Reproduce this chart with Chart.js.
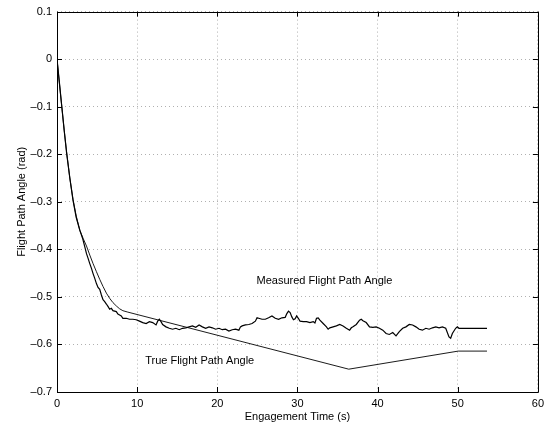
<!DOCTYPE html>
<html>
<head>
<meta charset="utf-8">
<script src="https://cdn.jsdelivr.net/npm/chart.js@4/dist/chart.umd.min.js"></script>
<style>
html,body{margin:0;padding:0;background:#fff;}
#wrap{width:549px;height:425px;}
</style>
</head>
<body>
<div id="wrap"><canvas id="c" width="549" height="425"></canvas></div>
<script>
// ---- data ----
const xTicks = [0, 10, 20, 30, 40, 50, 60];
const yTicks = [0.1, 0, -0.1, -0.2, -0.3, -0.4, -0.5, -0.6, -0.7];

const trueTime = [0,0.3,0.6,0.9,1.2,1.6,2.0,2.4,2.85,3.26,3.68,4.09,4.5,4.92,5.33,5.74,6.16,6.57,6.98,7.4,7.81,8.22,8.84,36.4,50.06,53.65];
const trueAngle = [0,-0.05,-0.1,-0.15,-0.195,-0.25,-0.295,-0.33,-0.36,-0.377,-0.393,-0.412,-0.43,-0.447,-0.463,-0.478,-0.492,-0.503,-0.512,-0.519,-0.525,-0.529,-0.532,-0.652,-0.614,-0.614];

const measTime = [0,0.3,0.6,0.9,1.2,1.6,2.0,2.4,2.85,3.18,3.47,3.68,3.88,4.09,4.30,4.50,4.71,4.92,5.12,5.33,5.54,5.74,5.95,6.16,6.36,6.57,6.78,6.98,7.40,7.60,7.81,8.02,8.22,8.64,9.05,9.46,9.88,10.29,10.70,11.12,11.53,11.94,12.36,12.56,12.77,12.98,13.18,13.60,14.01,14.42,14.83,15.25,15.66,16.07,16.49,16.90,17.31,17.73,18.14,18.55,18.97,19.38,19.79,20.21,20.62,21.03,21.45,21.86,22.27,22.69,22.89,23.10,23.51,23.93,24.34,24.75,24.96,25.17,25.58,25.99,26.40,26.82,27.23,27.65,28.06,28.47,28.68,28.88,29.09,29.30,29.50,29.71,29.90,30.11,30.32,30.73,31.14,31.56,31.97,32.18,32.38,32.59,32.80,33.21,33.62,33.83,34.04,34.45,34.86,35.28,35.69,36.10,36.51,36.72,36.93,37.34,37.75,37.96,38.17,38.58,38.99,39.41,39.82,40.23,40.65,41.06,41.47,41.89,42.30,42.71,43.13,43.54,43.95,44.37,44.78,45.19,45.60,46.02,46.43,46.85,47.26,47.67,48.09,48.50,48.91,49.12,49.33,49.74,49.95,50.15,53.65];
const measAngle = [0,-0.05,-0.1,-0.15,-0.198,-0.25,-0.297,-0.333,-0.36,-0.376,-0.395,-0.409,-0.419,-0.430,-0.440,-0.451,-0.461,-0.472,-0.480,-0.484,-0.496,-0.506,-0.510,-0.515,-0.520,-0.526,-0.524,-0.529,-0.531,-0.536,-0.538,-0.540,-0.545,-0.545,-0.547,-0.547,-0.548,-0.551,-0.554,-0.556,-0.552,-0.554,-0.559,-0.551,-0.547,-0.552,-0.558,-0.563,-0.566,-0.568,-0.566,-0.569,-0.566,-0.565,-0.563,-0.561,-0.564,-0.559,-0.563,-0.566,-0.563,-0.565,-0.568,-0.566,-0.569,-0.568,-0.572,-0.569,-0.568,-0.570,-0.563,-0.561,-0.559,-0.558,-0.556,-0.551,-0.544,-0.545,-0.547,-0.547,-0.544,-0.540,-0.545,-0.547,-0.544,-0.543,-0.535,-0.530,-0.533,-0.542,-0.548,-0.546,-0.540,-0.545,-0.551,-0.552,-0.552,-0.554,-0.552,-0.555,-0.545,-0.544,-0.549,-0.556,-0.563,-0.568,-0.565,-0.563,-0.561,-0.558,-0.561,-0.566,-0.570,-0.565,-0.563,-0.558,-0.549,-0.547,-0.550,-0.554,-0.563,-0.564,-0.563,-0.566,-0.570,-0.577,-0.579,-0.575,-0.582,-0.573,-0.566,-0.563,-0.558,-0.559,-0.563,-0.568,-0.570,-0.566,-0.568,-0.565,-0.563,-0.565,-0.563,-0.566,-0.584,-0.587,-0.577,-0.566,-0.563,-0.566,-0.566];

const annoText = ["Measured Flight Path Angle", "True Flight Path Angle"];
const annoX = [24.9, 11.0];
const annoY = [-0.467, -0.634];

const xTitle = "Engagement Time (s)";
const yTitle = "Flight Path Angle (rad)";

// ---- chart ----
const FONT = "'Liberation Sans', Arial, Helvetica, sans-serif";
const toPts = (xs, ys) => xs.map((x, i) => ({x: x, y: ys[i]}));
const fmt = v => {
  const r = Math.round(v * 10) / 10;
  if (r === 0) return "0";
  return (r < 0 ? "\u2013" : "") + Math.abs(r).toString();
};

const boxPlugin = {
  id: 'box',
  afterDatasetsDraw(chart) {
    const {ctx, chartArea: a, scales} = chart;
    const xs = scales.x, ys = scales.y;
    ctx.save();
    ctx.strokeStyle = '#000';
    ctx.lineWidth = 1;
    ctx.beginPath();
    ctx.rect(Math.round(a.left) + 0.5, Math.round(a.top) + 0.5, Math.round(a.right - a.left), Math.round(a.bottom - a.top));
    ctx.stroke();
    const L = 5;
    ctx.beginPath();
    xTicks.forEach(v => {
      const px = Math.round(xs.getPixelForValue(v)) + 0.5;
      ctx.moveTo(px, a.bottom); ctx.lineTo(px, a.bottom - L);
      ctx.moveTo(px, a.top); ctx.lineTo(px, a.top + L);
    });
    yTicks.forEach(v => {
      const py = Math.round(ys.getPixelForValue(v)) + 0.5;
      ctx.moveTo(a.left, py); ctx.lineTo(a.left + L, py);
      ctx.moveTo(a.right, py); ctx.lineTo(a.right - L, py);
    });
    ctx.stroke();
    ctx.fillStyle = '#000';
    ctx.font = "11px " + FONT;
    ctx.textBaseline = 'middle';
    ctx.textAlign = 'left';
    annoText.forEach((t, i) => {
      ctx.fillText(t, xs.getPixelForValue(annoX[i]), ys.getPixelForValue(annoY[i]));
    });
    ctx.restore();
  }
};

new Chart(document.getElementById('c'), {
  type: 'line',
  data: {
    datasets: [
      {label: 'Measured', data: toPts(measTime, measAngle), borderColor: '#000', borderWidth: 1.2, pointRadius: 0, fill: false, tension: 0},
      {label: 'True', data: toPts(trueTime, trueAngle), borderColor: '#000', borderWidth: 0.9, pointRadius: 0, fill: false, tension: 0}
    ]
  },
  options: {
    responsive: false,
    animation: false,
    devicePixelRatio: 1,
    layout: {padding: {top: 10, right: 8, left: 0, bottom: 0}},
    plugins: {legend: {display: false}, tooltip: {enabled: false}},
    scales: {
      x: {
        type: 'linear', min: 0, max: 60,
        afterBuildTicks: s => { s.ticks = xTicks.map(v => ({value: v})); },
        afterFit: s => { s.height = 33; },
        ticks: {color: '#000', padding: 5, font: {family: FONT, size: 11}, maxRotation: 0, callback: v => String(v)},
        grid: {color: '#b0b0b0', lineWidth: 1, drawTicks: false},
        border: {display: false, dash: [1, 3]},
        title: {display: true, text: xTitle, color: '#000', font: {family: FONT, size: 11}, padding: {top: 0, bottom: 1}}
      },
      y: {
        type: 'linear', min: -0.7, max: 0.1,
        afterBuildTicks: s => { s.ticks = yTicks.map(v => ({value: v})); },
        afterFit: s => { s.width = 57; },
        ticks: {color: '#000', padding: 5, font: {family: FONT, size: 11}, callback: v => fmt(v)},
        grid: {color: '#b0b0b0', lineWidth: 1, drawTicks: false},
        border: {display: false, dash: [1, 3]},
        title: {display: true, text: yTitle, color: '#000', font: {family: FONT, size: 11}, padding: {top: 15, bottom: 0}}
      }
    }
  },
  plugins: [boxPlugin]
});
</script>
</body>
</html>
